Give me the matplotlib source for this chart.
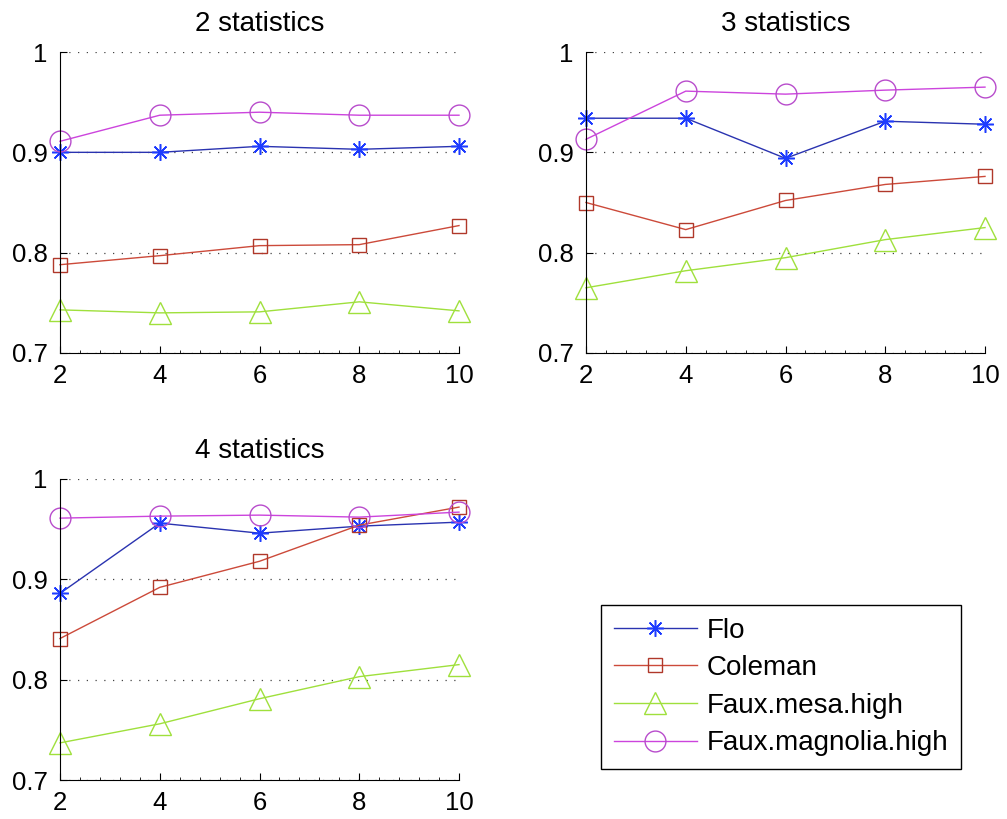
import matplotlib.pyplot as plt
from matplotlib.ticker import MultipleLocator

plt.rcParams['font.family'] = ['Liberation Sans', 'DejaVu Sans']

x = [2, 4, 6, 8, 10]
names = ["Flo", "Coleman", "Faux.mesa.high", "Faux.magnolia.high"]
titles = ["2 statistics", "3 statistics", "4 statistics"]

# values per panel, one list per method
flo = [
    [0.900, 0.900, 0.906, 0.903, 0.906],
    [0.934, 0.934, 0.894, 0.931, 0.928],
    [0.886, 0.956, 0.946, 0.953, 0.957],
]
coleman = [
    [0.788, 0.797, 0.807, 0.808, 0.827],
    [0.850, 0.823, 0.852, 0.868, 0.876],
    [0.841, 0.892, 0.918, 0.954, 0.972],
]
mesa = [
    [0.743, 0.740, 0.741, 0.751, 0.742],
    [0.765, 0.782, 0.795, 0.813, 0.825],
    [0.737, 0.756, 0.781, 0.803, 0.815],
]
magnolia = [
    [0.911, 0.937, 0.940, 0.937, 0.937],
    [0.913, 0.961, 0.958, 0.962, 0.965],
    [0.961, 0.963, 0.964, 0.962, 0.967],
]

styles = [
    dict(color="#2a33b0", marker=(8, 2, 0), mec="#1e3cff", mfc="none", ms=12, mew=1.1),
    dict(color="#cc4a3a", marker="s", mec="#b0382a", mfc="none", ms=10, mew=1.0),
    dict(color="#9fe03c", marker="^", mec="#9fe03c", mfc="none", ms=16, mew=1.0),
    dict(color="#cc44dd", marker="o", mec="#b84ccc", mfc="none", ms=15, mew=1.0),
]

W, H = 1007, 819
fig = plt.figure(figsize=(W / 100, H / 100), dpi=100)
boxes = [(60, 52), (586, 52), (60, 479)]
aw, ah = 399, 301

handles = []
for i, (bx, by) in enumerate(boxes):
    ax = fig.add_axes([bx / W, 1 - (by + ah) / H, aw / W, ah / H])
    series = [flo[i], coleman[i], mesa[i], magnolia[i]]
    hs = []
    for vals, st, nm in zip(series, styles, names):
        h, = ax.plot(x, vals, lw=1.0, label=nm, clip_on=False, **st)
        hs.append(h)
    if i == 0:
        handles = hs
    ax.set_xlim(2, 10)
    ax.set_ylim(0.7, 1.0)
    ax.set_xticks(x)
    ax.set_yticks([0.7, 0.8, 0.9, 1.0])
    ax.set_yticklabels(["0.7", "0.8", "0.9", "1"])
    ax.xaxis.set_minor_locator(MultipleLocator(0.4))
    ax.tick_params(direction="in", labelsize=18.5, length=5, width=0.8)
    ax.tick_params(which="minor", direction="in", length=2.5, width=0.6)
    ax.tick_params(axis="y", pad=9)
    ax.tick_params(axis="x", pad=8)
    ax.spines["top"].set_visible(False)
    ax.spines["right"].set_visible(False)
    ax.yaxis.grid(True, linestyle=(0, (1, 6)), color="#444444", lw=0.9)
    ax.set_axisbelow(True)
    ax.set_title(titles[i], fontsize=20, pad=15)

fig.legend(handles=handles, labels=names, loc="upper left",
           bbox_to_anchor=(601 / W, 1 - 605 / H), borderaxespad=0,
           fontsize=20, handlelength=3.0, handletextpad=0.35,
           labelspacing=0.42, borderpad=0.45, fancybox=False,
           edgecolor="black", framealpha=1)

fig.savefig("out.png", dpi=100)
